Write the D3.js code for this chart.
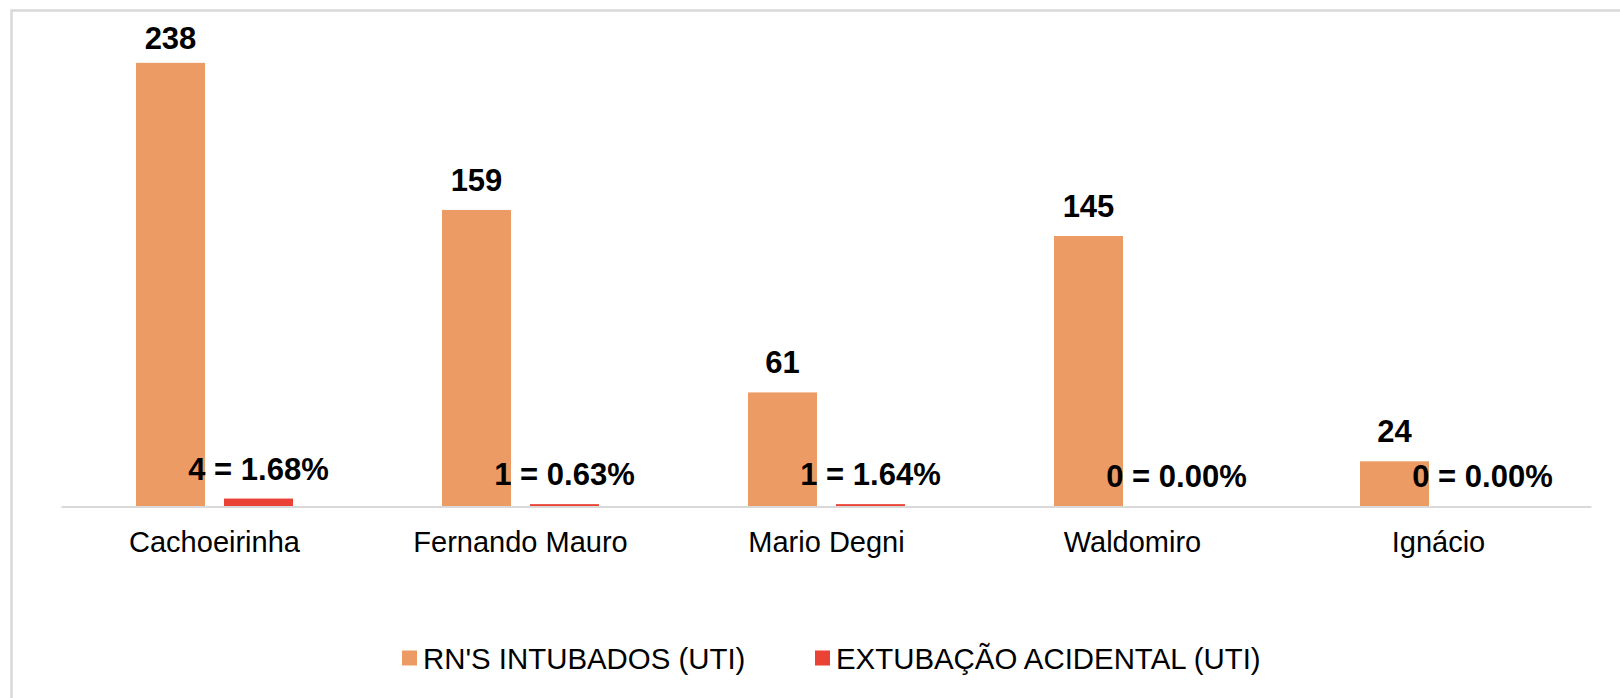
<!DOCTYPE html>
<html>
<head>
<meta charset="utf-8">
<script src="https://cdn.jsdelivr.net/npm/d3@7"></script>
<style>
  body { margin: 0; background: #fff; }
  svg { display: block; font-family: Arial, "Liberation Sans", sans-serif; }
</style>
</head>
<body>
<div id="chart"></div>
<script>
// data
var categories = ["Cachoeirinha", "Fernando Mauro", "Mario Degni", "Waldomiro", "Ignácio"];
var intubados = [238, 159, 61, 145, 24];
var extubacao = [4, 1, 1, 0, 0];
var seriesNames = ["RN'S INTUBADOS (UTI)", "EXTUBAÇÃO ACIDENTAL (UTI)"];
var colors = ["#ec9b65", "#ea4335"];

var width = 1620, height = 698;
var baseline = 506;

var svg = d3.select("#chart")
            .append("svg")
            .attr("width", width)
            .attr("height", height);

// outer frame (runs off the right and bottom edges)
svg.append("rect")
   .attr("x", 11.5).attr("y", 10.5)
   .attr("width", 1700).attr("height", 800)
   .attr("fill", "none")
   .attr("stroke", "#d9d9d9")
   .attr("stroke-width", 2.5);

// scales
var x = d3.scaleBand().domain(categories).range([61.5, 1591.5]);
var x1 = d3.scaleBand().domain([0, 1]).range([x.bandwidth() / 2 - 88, x.bandwidth() / 2 + 88]);
var y = d3.scaleLinear().domain([0, 250]).range([baseline, 40.5]);

var bw = 69;

var groups = svg.selectAll(".grp")
                .data(categories)
                .enter()
                .append("g")
                .attr("class", "grp")
                .attr("transform", function(d) { return "translate(" + x(d) + ",0)"; });

// orange bars
groups.append("rect")
      .attr("x", function() { return x1(0) + (x1.bandwidth() - bw) / 2; })
      .attr("width", bw)
      .attr("y", function(d, i) { return y(intubados[i]); })
      .attr("height", function(d, i) { return baseline - y(intubados[i]); })
      .attr("fill", colors[0]);

// red bars
groups.append("rect")
      .attr("x", function() { return x1(1) + (x1.bandwidth() - bw) / 2; })
      .attr("width", bw)
      .attr("y", function(d, i) { return y(extubacao[i]); })
      .attr("height", function(d, i) { return baseline - y(extubacao[i]); })
      .attr("fill", colors[1]);

// axis line
svg.append("line")
   .attr("x1", x.range()[0]).attr("x2", x.range()[1])
   .attr("y1", baseline + 1).attr("y2", baseline + 1)
   .attr("stroke", "#d9d9d9")
   .attr("stroke-width", 2.2);

// value labels for intubados (kept inside the plot area)
groups.append("text")
      .attr("x", x1(0) + x1.bandwidth() / 2)
      .attr("y", function(d, i) { return Math.max(y(intubados[i]) - 19, 49); })
      .attr("text-anchor", "middle")
      .attr("font-size", 31)
      .attr("font-weight", "bold")
      .attr("fill", "#000")
      .text(function(d, i) { return intubados[i]; });

// value labels for extubacao
groups.append("text")
      .attr("x", x1(1) + x1.bandwidth() / 2)
      .attr("y", function(d, i) { return y(extubacao[i]) - 19; })
      .attr("text-anchor", "middle")
      .attr("font-size", 31)
      .attr("font-weight", "bold")
      .attr("fill", "#000")
      .text(function(d, i) {
        return extubacao[i] + " = " + (extubacao[i] / intubados[i] * 100).toFixed(2) + "%";
      });

// category labels
groups.append("text")
      .attr("x", x.bandwidth() / 2)
      .attr("y", 552)
      .attr("text-anchor", "middle")
      .attr("font-size", 29)
      .attr("fill", "#000")
      .text(function(d) { return d; });

// legend
var legend = svg.append("g").attr("transform", "translate(402,669)");
var offsets = [0, 413];
seriesNames.forEach(function(name, i) {
  var g = legend.append("g").attr("transform", "translate(" + offsets[i] + ",0)");
  g.append("rect")
   .attr("x", 0).attr("y", -18.5)
   .attr("width", 15).attr("height", 15)
   .attr("fill", colors[i]);
  g.append("text")
   .attr("x", 21).attr("y", 0)
   .attr("font-size", 29.4)
   .attr("fill", "#000")
   .text(name);
});
</script>
</body>
</html>
